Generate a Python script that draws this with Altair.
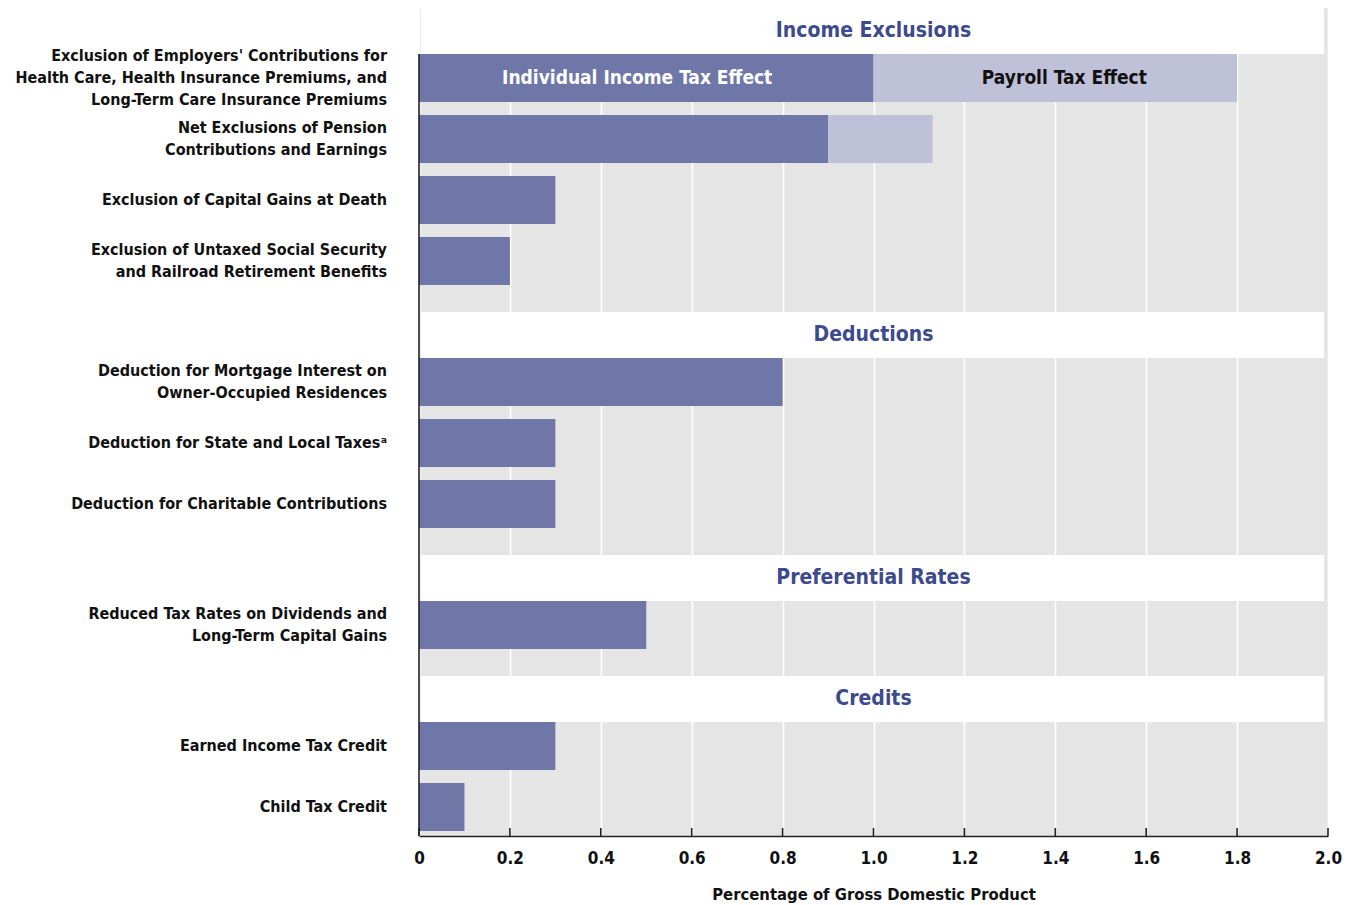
import altair as alt
import pandas as pd

# ---------------- data ----------------
sections = ["Income Exclusions", "Deductions", "Preferential Rates", "Credits"]

item_labels = [
    "Exclusion of Employers' Contributions for\nHealth Care, Health Insurance Premiums, and\nLong-Term Care Insurance Premiums",
    "Net Exclusions of Pension\nContributions and Earnings",
    "Exclusion of Capital Gains at Death",
    "Exclusion of Untaxed Social Security\nand Railroad Retirement Benefits",
    "Deduction for Mortgage Interest on\nOwner-Occupied Residences",
    "Deduction for State and Local Taxes\u1d43",
    "Deduction for Charitable Contributions",
    "Reduced Tax Rates on Dividends and\nLong-Term Capital Gains",
    "Earned Income Tax Credit",
    "Child Tax Credit",
]
item_section = [0, 0, 0, 0, 1, 1, 1, 2, 3, 3]
income_tax = [1.0, 0.9, 0.3, 0.2, 0.8, 0.3, 0.3, 0.5, 0.3, 0.1]
payroll_tax = [0.8, 0.23, 0, 0, 0, 0, 0, 0, 0, 0]

series_names = ["Individual Income Tax Effect", "Payroll Tax Effect"]
x_ticks = [0, 0.2, 0.4, 0.6, 0.8, 1.0, 1.2, 1.4, 1.6, 1.8, 2.0]
x_title = "Percentage of Gross Domestic Product"

# ---------------- layout (pixel units on a linear y scale) ----------------
HEAD, BAR, GAP, SEC, BOTTOM = 46, 48, 13, 27, 5
LINE_H = 22
W = 909

head_rows, bar_rows, seg_rows = [], [], []
y = 0
for s, sname in enumerate(sections):
    head_rows.append({"name": sname, "top": y, "bot": y + HEAD, "mid": y + HEAD / 2})
    y += HEAD
    for i, lab in enumerate(item_labels):
        if item_section[i] != s:
            continue
        nlines = lab.count("\n") + 1
        bar_rows.append({"label": lab, "top": y, "bot": y + BAR,
                         "ly": y + BAR / 2 - (nlines - 1) * LINE_H / 2})
        seg_rows.append({"series": series_names[0], "x0": 0, "x1": income_tax[i],
                         "top": y, "bot": y + BAR})
        if payroll_tax[i] > 0:
            seg_rows.append({"series": series_names[1], "x0": income_tax[i],
                             "x1": income_tax[i] + payroll_tax[i], "top": y, "bot": y + BAR})
        y += BAR + GAP
    y = y - GAP + SEC
TOTAL = y - SEC + BOTTOM

heads = pd.DataFrame(head_rows)
bars = pd.DataFrame(bar_rows)
segs = pd.DataFrame(seg_rows)
ticks = pd.DataFrame({"x": x_ticks})
axis_line = pd.DataFrame({"top": [HEAD], "bot": [TOTAL]})

# legend labels inside first bar
first = bar_rows[0]
leg = pd.DataFrame({
    "series": series_names,
    "xm": [income_tax[0] / 2 - 0.02, income_tax[0] + payroll_tax[0] / 2 + 0.02],
    "mid": [first["top"] + BAR / 2] * 2,
})

FONT = "DejaVu Sans Condensed, sans-serif"
DARK = "#6f76a8"
LIGHT = "#bfc1d9"
BLUE = "#3d4a8c"

xscale = alt.Scale(domain=[0, 2], nice=False)
yscale = alt.Scale(domain=[0, TOTAL], reverse=True, nice=False, zero=False)

seg_chart = alt.Chart(segs).mark_bar(cornerRadius=0).encode(
    x=alt.X("x0:Q", scale=xscale,
            axis=alt.Axis(values=x_ticks,
                          labelExpr="datum.value == 0 ? '0' : format(datum.value, '.1f')",
                          labelFlush=False,
                          grid=True, gridColor="white", gridWidth=1.6,
                          ticks=False, domainColor="#222", domainWidth=1.6,
                          labelFont=FONT, labelFontSize=17, labelFontWeight="bold",
                          labelColor="#111", labelPadding=14,
                          title=x_title, titleFont=FONT, titleFontSize=16.5,
                          titleFontWeight="bold", titleColor="#111", titlePadding=20)),
    x2="x1:Q",
    y=alt.Y("top:Q", scale=yscale,
            axis=alt.Axis(labels=False, ticks=False, grid=False, title=None, domain=False)),
    y2="bot:Q",
    color=alt.Color("series:N", scale=alt.Scale(domain=series_names, range=[DARK, LIGHT]),
                    legend=None),
)

head_rect = alt.Chart(heads).mark_rect(color="white").encode(
    x=alt.value(2), x2=alt.value(W - 4),
    y=alt.Y("top:Q", scale=yscale), y2="bot:Q",
)
head_text = alt.Chart(heads).mark_text(
    font=FONT, fontSize=21, fontWeight="bold", color=BLUE, baseline="middle", align="center"
).encode(x=alt.value(W / 2), y=alt.Y("mid:Q", scale=yscale), text="name:N")

labels = alt.Chart(bars).mark_text(
    font=FONT, fontSize=16, fontWeight="bold", color="#111", align="right",
    baseline="middle", lineBreak="\n", lineHeight=LINE_H
).encode(x=alt.value(-32), y=alt.Y("ly:Q", scale=yscale), text="label:N")

leg_text = alt.Chart(leg).mark_text(
    font=FONT, fontSize=19, fontWeight="bold", baseline="middle", align="center"
).encode(
    x=alt.X("xm:Q", scale=xscale), y=alt.Y("mid:Q", scale=yscale), text="series:N",
    color=alt.Color("series:N", scale=alt.Scale(domain=series_names, range=["white", "#111"]),
                    legend=None),
)

tick_marks = alt.Chart(ticks).mark_rule(color="#222", strokeWidth=1.6).encode(
    x=alt.X("x:Q", scale=xscale), y=alt.value(TOTAL - 8), y2=alt.value(TOTAL)
)

left_line = alt.Chart(axis_line).mark_rule(color="#222", strokeWidth=1.6).encode(
    x=alt.value(0), y=alt.Y("top:Q", scale=yscale), y2="bot:Q"
)

chart = alt.layer(seg_chart, head_rect, head_text, leg_text, labels, tick_marks,
                  left_line).resolve_scale(
    color="independent"
).properties(
    width=W, height=TOTAL,
    autosize=alt.AutoSizeParams(type="none"),
    padding={"left": 411, "top": 0, "right": 16, "bottom": 68},
).configure_view(fill="#e5e5e5", stroke=None)

chart.save("out.html", embed_options={"renderer": "svg", "actions": False})
